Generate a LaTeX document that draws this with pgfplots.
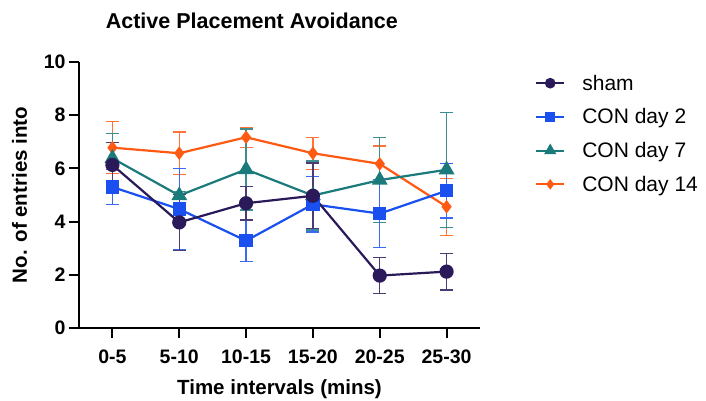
\documentclass[border=0pt]{standalone}
\usepackage{fontspec}
\setmainfont{Liberation Sans}
\usepackage{pgfplots}
\pgfplotsset{compat=1.18}
\definecolor{shamc}{HTML}{2B1A5A}
\definecolor{d2c}{HTML}{1A4FF0}
\definecolor{d7c}{HTML}{1B7A7A}
\definecolor{d14c}{HTML}{FF5A14}

% x  mean  sem
\pgfplotstableread{
x y e
0 6.13 0.85
1 3.97 1.05
2 4.69 0.63
3 4.97 1.23
4 1.97 0.68
5 2.12 0.69
}\sham
\pgfplotstableread{
x y e
0 5.30 0.67
1 4.47 1.52
2 3.28 0.77
3 4.65 1.04
4 4.30 1.27
5 5.16 1.03
}\dtwo
\pgfplotstableread{
x y e
0 6.38 0.92
1 4.98 0.15
2 5.96 1.52
3 4.98 1.30
4 5.56 1.60
5 5.95 2.16
}\dseven
\pgfplotstableread{
x y e
0 6.78 0.97
1 6.57 0.80
2 7.17 0.38
3 6.57 0.60
4 6.17 0.67
5 4.56 1.07
}\dfourteen

\begin{document}
\begin{tikzpicture}
\begin{axis}[
    scale only axis,
    width=401pt, height=266pt,
    xmin=-0.5, xmax=5.5,
    ymin=0, ymax=10,
    xtick={0,1,2,3,4,5},
    xticklabels={0-5,5-10,10-15,15-20,20-25,25-30},
    ytick={0,2,4,6,8,10},
    axis x line*=bottom, axis y line*=left,
    axis line style={line width=2pt, black},
    tick align=outside,
    major tick length=10pt,
    tick style={line width=2pt, black},
    /pgf/number format/assume math mode=true,
    ticklabel style={font=\fontsize{19.5}{22}\selectfont\bfseries},
    xticklabel style={yshift=-8pt},
    title={Active Placement Avoidance},
    title style={font=\fontsize{21.5}{24}\selectfont\bfseries,
        at={(axis description cs:0.431,1)}, anchor=center, yshift=35pt},
    xlabel={Time intervals (mins)},
    ylabel={No. of entries into},
    label style={font=\fontsize{20.5}{24}\selectfont\bfseries},
    xlabel style={at={(axis description cs:0.5,0)}, anchor=center, yshift=-61pt},
    ylabel style={at={(axis description cs:-0.148,0.5)}, anchor=center},
    legend style={draw=none, fill=none, at={(axis description cs:1.137,0.96)},
        anchor=north west, font=\fontsize{21}{24}\selectfont,
        row sep=13pt, column sep=15pt, inner sep=0pt},
    legend cell align={left},
    reverse legend,
    legend image code/.code={
        \draw[mark repeat=2, mark phase=2, every mark/.append style={scale=0.7}]
        plot coordinates {(0pt,0pt) (14pt,0pt) (28pt,0pt)};
    },
    clip=false,
]
\addplot[line width=2.2pt, color=d14c, mark=diamond*, mark size=5pt,
    error bars/.cd, y dir=both, y explicit,
    error bar style={line width=1.3pt, color=d14c!85},
    error mark options={line width=1.3pt, rotate=90, mark size=6.5pt, color=d14c!85}]
    table[x=x, y=y, y error=e] {\dfourteen};
\addlegendentry{CON day 14}
\addplot[line width=2.2pt, color=d7c, mark=triangle*, mark size=7pt,
    error bars/.cd, y dir=both, y explicit,
    error bar style={line width=1.3pt, color=d7c!85},
    error mark options={line width=1.3pt, rotate=90, mark size=6.5pt, color=d7c!85}]
    table[x=x, y=y, y error=e] {\dseven};
\addlegendentry{CON day 7}
\addplot[line width=2.2pt, color=d2c, mark=square*, mark size=5.5pt,
    error bars/.cd, y dir=both, y explicit,
    error bar style={line width=1.3pt, color=d2c!85},
    error mark options={line width=1.3pt, rotate=90, mark size=6.5pt, color=d2c!85}]
    table[x=x, y=y, y error=e] {\dtwo};
\addlegendentry{CON day 2}
\addplot[line width=2.2pt, color=shamc, mark=*, mark size=6pt,
    error bars/.cd, y dir=both, y explicit,
    error bar style={line width=1.3pt, color=shamc!85},
    error mark options={line width=1.3pt, rotate=90, mark size=6.5pt, color=shamc!85}]
    table[x=x, y=y, y error=e] {\sham};
\addlegendentry{sham}
\end{axis}
\pgfresetboundingbox
\path (current axis.south west) ++(-79pt,-73pt) rectangle ++(706pt,401pt);
\end{tikzpicture}
\end{document}
